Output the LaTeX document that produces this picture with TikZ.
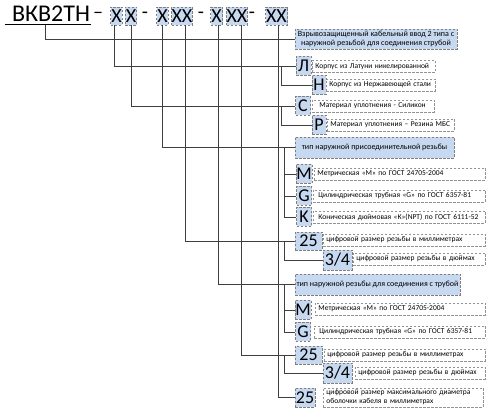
\documentclass[tikz,border=0pt]{standalone}
\usepackage{fontspec}
\setmainfont{Carlito}
\usetikzlibrary{calc}
\definecolor{lblue}{HTML}{C6D9F1}
\definecolor{bgray}{HTML}{7F7F7F}
\definecolor{lgray}{HTML}{3F3F3F}
\newcommand{\myline}[1]{\makebox[\linewidth][l]{#1}}
\begin{document}
\begin{tikzpicture}[x=1pt,y=-1pt,
  ln/.style={draw=lgray, line width=0.7pt},
  dsh/.style={dash pattern=on 2.5pt off 1.5pt, line width=0.8pt},
  hx/.style={draw=bgray, dsh, fill=lblue, inner sep=0pt, font=\fontsize{20}{20}\selectfont, minimum height=18pt},
  hy/.style={inner sep=0pt, font=\fontsize{20}{20}\selectfont},
  lb/.style={draw=bgray, dsh, fill=lblue, inner sep=0pt, font=\fontsize{18}{18}\selectfont, minimum height=19pt, minimum width=15pt},
  tb/.style={draw=bgray!85, dsh, fill=white, inner sep=0pt, inner xsep=3pt, font=\fontsize{7.5}{9}\selectfont, anchor=west, align=left, minimum height=12pt},
  bb/.style={draw=bgray, dsh, fill=lblue, inner sep=1pt, font=\fontsize{8}{9.5}\selectfont, align=center},
]
\useasboundingbox (0,0) rectangle (499,417);

% header
\node[font=\fontsize{24}{24}\selectfont, inner sep=0pt, anchor=base] (t) at (51,22) {ВКВ2ТН};
\draw[line width=1pt] ($(t.base west)+(-7,3)$) -- ($(t.base east)+(1,3)$);
\node[hy] (h0) at (98,15) {–};
\node[hx, minimum width=11.5pt] (x1) at (116.5,16) {X};
\node[hx, minimum width=11.5pt] (x2) at (131,16) {X};
\node[hy] (h1) at (145,15) {-};
\node[hx, minimum width=11.5pt] (x3) at (162.5,16) {X};
\node[hx, minimum width=20pt] (x4) at (182,16) {XX};
\node[hy] (h2) at (201,15) {-};
\node[hx, minimum width=12pt] (x5) at (216.5,16) {X};
\node[hx, minimum width=20pt] (x6) at (237,16) {XX};
\node[hy] (h3) at (252,15) {-};
\node[hx, minimum width=22pt] (x7) at (276.5,16) {XX};
\coordinate (u) at (45,25);

% description
\node[bb, minimum width=162pt, minimum height=20pt] (desc) at (376,39) {Взрывозащищенный кабельный ввод 2 типа с\\наружной резьбой для соединения струбой};

% body
\node[lb] (L) at (303.5,66) {Л};
\node[tb, text width=117pt] (Lt) at (312,66.5) {\myline{Корпус из Латуни никелированной}};
\node[lb, minimum width=14pt] (N) at (319,85) {Н};
\node[tb, text width=103pt] (Nt) at (326,85) {\myline{Корпус из Нержавеющей стали}};
\node[lb] (C) at (303,106) {С};
\node[tb, text width=116pt] (Ct) at (312,106) {\myline{\hspace{4pt}Материал уплотнения - Силикон}};
\node[lb, minimum width=14pt] (R) at (319,125) {Р};
\node[tb, text width=121pt] (Rt) at (327,125) {\myline{Материал уплотнения – Резина МБС}};

\node[bb, minimum width=159pt, minimum height=21pt] (tip1) at (374.5,147.5) {тип наружной присоединительной резьбы};
\node[lb, minimum width=16pt] (M1) at (304,174) {M};
\node[tb, text width=165pt] (M1t) at (314,174) {\myline{Метрическая «М» по ГОСТ 24705-2004}};
\node[lb] (G1) at (304,196) {G};
\node[tb, text width=166pt] (G1t) at (313,196) {\myline{\hspace{2pt}Цилиндрическая трубная «G» по ГОСТ 6357-81}};
\node[lb] (K1) at (304,217) {K};
\node[tb, text width=166pt] (K1t) at (313,217) {\myline{\hspace{2pt}Коническая дюймовая «К»(NPT) по ГОСТ 6111-52}};
\node[lb, minimum width=27pt, minimum height=18pt] (n1) at (308.5,241) {25};
\node[tb, text width=156pt] (n1t) at (323,240) {\myline{цифровой размер резьбы в миллиметрах}};
\node[lb, minimum width=29pt, minimum height=20pt] (q1) at (337.5,260) {3/4};
\node[tb, text width=126pt] (q1t) at (353,259) {\myline{цифровой размер резьбы в дюймах}};

\node[bb, minimum width=165pt, minimum height=21pt] (tip2) at (377.5,284.5) {тип наружной резьбы для соединения с трубой};
\node[lb, minimum width=16pt] (M2) at (303,310) {M};
\node[tb, text width=164pt] (M2t) at (315,309) {\myline{Метрическая «М» по ГОСТ 24705-2004}};
\node[lb] (G2) at (303,332) {G};
\node[tb, text width=165pt] (G2t) at (314,332) {\myline{\hspace{2pt}Цилиндрическая трубная «G» по ГОСТ 6357-81}};
\node[lb, minimum width=27pt, minimum height=18pt] (n2) at (308.5,355) {25};
\node[tb, text width=155pt] (n2t) at (324,355) {\myline{цифровой размер резьбы в миллиметрах}};
\node[lb, minimum width=29pt, minimum height=20pt] (q2) at (337.5,373) {3/4};
\node[tb, text width=124pt] (q2t) at (355,373) {\myline{цифровой размер резьбы в дюймах}};
\node[lb, minimum width=20pt] (d) at (305,397.5) {25};
\node[tb, text width=154pt, minimum height=19pt] (dt) at (323,397.5) {\myline{цифровой размер максимального диаметра}\\\myline{оболочки кабеля в миллиметрах}};

% connectors
\draw[ln] (u) |- (desc.west);
\draw[ln] ([xshift=-2.5pt]x1.south) |- (L.west);
\draw[ln] (x2.south) |- (C.west);
\draw[ln] (x3.south) |- (tip1.west);
\draw[ln] ([xshift=3pt]x4.south) |- (n1.west);
\draw[ln] ([xshift=1.5pt]x5.south) |- (tip2.west);
\draw[ln] ([xshift=4pt]x6.south) |- (n2.west);
\draw[ln] ([xshift=1.5pt]x7.south) |- (d.west);

\draw[ln] ([xshift=-14pt]L.west) |- (N.west);
\draw[ln] ([xshift=-13.5pt]C.west) |- (R.west);
\draw[ln] ([xshift=-10pt]tip1.west) |- (M1.west);
\draw[ln] ([xshift=-10pt]tip1.west) |- (G1.west);
\draw[ln] ([xshift=-10pt]tip1.west) |- (K1.west);
\draw[ln] ([xshift=-10pt]n1.west) |- (q1.west);
\draw[ln] ([xshift=-10pt]tip2.west) |- (M2.west);
\draw[ln] ([xshift=-10pt]tip2.west) |- (G2.west);
\draw[ln] ([xshift=-10pt]n2.west) |- (q2.west);
\end{tikzpicture}
\end{document}
